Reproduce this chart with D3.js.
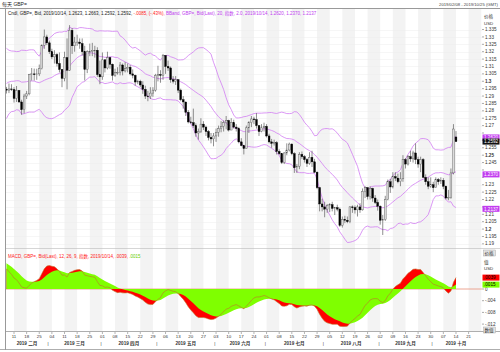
<!DOCTYPE html>
<html>
<head>
<meta charset="utf-8">
<script src="https://cdn.jsdelivr.net/npm/d3@7/dist/d3.min.js"></script>
<style>
body{margin:0;background:#fff;}
svg{display:block;font-family:"Liberation Sans","Noto Sans CJK SC",sans-serif;}
</style>
</head>
<body>
<script>
// closes before the visible window (Dec 3 2018 - Feb 5 2019), only used to warm up the indicators
var warmupClose = [1.2735,1.2725,1.2735,1.2775,1.2725, 1.2560,1.2490,1.2635,1.2640,1.2585,
    1.2630,1.2650,1.2640,1.2670,1.2640, 1.2690,1.2630,1.2655,1.2720, 1.2750,1.2610,1.2630,1.2730,
    1.2780,1.2720,1.2750,1.2760,1.2845, 1.2870,1.2870,1.2875,1.2990,1.2880, 1.2875,1.2950,1.3040,1.3060,1.3195,
    1.3170,1.3085,1.3125,1.3115,1.3075, 1.3045,1.2945];

// daily GBP= candles, Feb 6 2019 -> Oct 14 2019 (weekdays)
var dayOpen = [1.2947,1.2940,1.2948,
    1.2944,1.2884,1.2938,1.2860,1.2808, 1.2900,1.2915,1.3045,1.3050,1.3045, 1.3050,1.3085,1.3244,1.3300,1.3260,
    1.3200,1.3165,1.3180,1.3120,1.3080, 1.3020,1.3160,1.3075,1.3345,1.3240, 1.3265,1.3265,1.3255,1.3200,1.3080, 1.3200,1.3200,1.3210,1.3210,1.3045,
    1.3030,1.3145,1.3090,1.3160,1.3115, 1.3040,1.3060,1.3060,1.3110,1.3070, 1.3085,1.3095,1.3050,1.3040,1.2995, 1.3000,1.2975,1.2945,1.2900,1.2895,
    1.2920,1.2940,1.3040,1.3045,1.3040, 1.3175,1.3100,1.3090,1.3010,1.3000, 1.3010,1.2940,1.2875,1.2860,1.2790, 1.2725,1.2720,1.2700,1.2650,1.2660,
    1.2710,1.2690,1.2660,1.2620,1.2610, 1.2630,1.2655,1.2680,1.2695,1.2720, 1.2735,1.2670,1.2720,1.2690,1.2680, 1.2590,1.2565,1.2545,1.2685,1.2720,
    1.2745,1.2740,1.2700,1.2660,1.2685, 1.2695,1.2630,1.2590,1.2580,1.2585, 1.2525,1.2510,1.2450,1.2515,1.2535, 1.2575,1.2510,1.2415,1.2425,1.2505,
    1.2490,1.2470,1.2445,1.2485,1.2455, 1.2385,1.2280,1.2170,1.2150,1.2135, 1.2160,1.2165,1.2140,1.2145,1.2135, 1.2025,1.2065,1.2060,1.2050,1.2150,
    1.2145,1.2130,1.2150,1.2130,1.2255, 1.2280,1.2220,1.2275,1.2210,1.2180, 1.2155,1.2060,1.2065,1.2200,1.2320, 1.2285,1.2355,1.2345,1.2320,1.2340,
    1.2470,1.2440,1.2490,1.2475,1.2515, 1.2470,1.2440,1.2470,1.2350,1.2320, 1.2290,1.2300,1.2280,1.2335,1.2320, 1.2330,1.2290,1.2210,1.2215,1.2380,
    1.2623];
var dayHigh = [1.2962,1.2985,1.2980,
    1.2960,1.2968,1.2940,1.2875,1.2915, 1.2935,1.3050,1.3090,1.3086,1.3085, 1.3113,1.3250,1.3350,1.3315,1.3275,
    1.3220,1.3210,1.3190,1.3195,1.3080, 1.3200,1.3290,1.3380,1.3360,1.3300, 1.3315,1.3290,1.3290,1.3240,1.3210, 1.3255,1.3260,1.3240,1.3230,1.3140,
    1.3195,1.3150,1.3200,1.3165,1.3120, 1.3085,1.3095,1.3130,1.3120,1.3130, 1.3120,1.3110,1.3080,1.3045,1.3010, 1.3010,1.3000,1.2970,1.2935,1.2960,
    1.2960,1.3050,1.3105,1.3075,1.3185, 1.3175,1.3140,1.3100,1.3035,1.3035, 1.3015,1.2950,1.2900,1.2860,1.2805, 1.2760,1.2815,1.2715,1.2680,1.2750,
    1.2730,1.2700,1.2670,1.2650,1.2650, 1.2680,1.2700,1.2730,1.2735,1.2765, 1.2740,1.2750,1.2740,1.2710,1.2690, 1.2615,1.2570,1.2700,1.2730,1.2765,
    1.2760,1.2785,1.2700,1.2710,1.2720, 1.2710,1.2645,1.2610,1.2605,1.2595, 1.2540,1.2515,1.2520,1.2580,1.2585, 1.2580,1.2520,1.2440,1.2520,1.2525,
    1.2500,1.2480,1.2520,1.2530,1.2475, 1.2390,1.2285,1.2205,1.2185,1.2170, 1.2175,1.2185,1.2150,1.2165,1.2145, 1.2085,1.2090,1.2085,1.2155,1.2160,
    1.2160,1.2165,1.2175,1.2275,1.2290, 1.2285,1.2290,1.2280,1.2230,1.2200, 1.2160,1.2095,1.2225,1.2335,1.2340, 1.2385,1.2385,1.2375,1.2385,1.2500,
    1.2480,1.2500,1.2530,1.2530,1.2580, 1.2490,1.2490,1.2480,1.2370,1.2350, 1.2350,1.2320,1.2350,1.2345,1.2350, 1.2345,1.2295,1.2265,1.2410,1.2710,
    1.2663];
var dayLow = [1.2917,1.2920,1.2935,
    1.2856,1.2860,1.2855,1.2773,1.2783, 1.2880,1.2905,1.3005,1.3005,1.3010, 1.3035,1.3080,1.3220,1.3245,1.3185,
    1.3150,1.3120,1.3100,1.3060,1.2960, 1.3000,1.2945,1.3070,1.3185,1.3200, 1.3240,1.3220,1.3175,1.3005,1.3055, 1.3170,1.3170,1.3160,1.3030,1.2980,
    1.3010,1.3060,1.3080,1.3085,1.3005, 1.3030,1.3045,1.3040,1.3040,1.3060, 1.3060,1.3040,1.3020,1.2970,1.2980, 1.2960,1.2915,1.2880,1.2865,1.2880,
    1.2895,1.2930,1.3000,1.2990,1.3010, 1.3050,1.3070,1.2990,1.2985,1.2975, 1.2920,1.2865,1.2815,1.2765,1.2715, 1.2710,1.2685,1.2625,1.2605,1.2650,
    1.2670,1.2630,1.2600,1.2580,1.2560, 1.2590,1.2625,1.2655,1.2660,1.2675, 1.2660,1.2670,1.2680,1.2660,1.2580, 1.2560,1.2505,1.2545,1.2650,1.2690,
    1.2710,1.2680,1.2630,1.2655,1.2660, 1.2620,1.2580,1.2550,1.2565,1.2505, 1.2500,1.2440,1.2440,1.2500,1.2525, 1.2500,1.2380,1.2380,1.2405,1.2475,
    1.2450,1.2420,1.2435,1.2420,1.2380, 1.2270,1.2120,1.2120,1.2080,1.2110, 1.2115,1.2120,1.2095,1.2120,1.2015, 1.2010,1.2040,1.2040,1.2040,1.2110,
    1.2105,1.2085,1.2110,1.2125,1.2210, 1.2200,1.2200,1.2185,1.2170,1.2125, 1.2030,1.1960,1.2055,1.2195,1.2245, 1.2275,1.2325,1.2310,1.2290,1.2320,
    1.2410,1.2430,1.2455,1.2450,1.2440, 1.2415,1.2385,1.2345,1.2300,1.2270, 1.2280,1.2250,1.2280,1.2300,1.2305, 1.2270,1.2200,1.2195,1.2205,1.2370,
    1.2592];
var dayClose = [1.2940,1.2948,1.2944,
    1.2884,1.2938,1.2860,1.2808,1.2900, 1.2915,1.3045,1.3050,1.3045,1.3050, 1.3085,1.3244,1.3300,1.3260,1.3200,
    1.3165,1.3180,1.3120,1.3080,1.3020, 1.3160,1.3075,1.3345,1.3240,1.3265, 1.3265,1.3255,1.3200,1.3080,1.3200, 1.3200,1.3210,1.3210,1.3045,1.3030,
    1.3145,1.3090,1.3160,1.3115,1.3040, 1.3060,1.3060,1.3110,1.3070,1.3085, 1.3095,1.3050,1.3040,1.2995,1.3000, 1.2975,1.2945,1.2900,1.2895,1.2920,
    1.2940,1.3040,1.3045,1.3040,1.3175, 1.3100,1.3090,1.3010,1.3000,1.3010, 1.2940,1.2875,1.2860,1.2790,1.2725, 1.2720,1.2700,1.2650,1.2660,1.2710,
    1.2690,1.2660,1.2620,1.2610,1.2630, 1.2655,1.2680,1.2695,1.2720,1.2735, 1.2670,1.2720,1.2690,1.2680,1.2590, 1.2565,1.2545,1.2685,1.2720,1.2745,
    1.2740,1.2700,1.2660,1.2685,1.2695, 1.2630,1.2590,1.2580,1.2585,1.2525, 1.2510,1.2450,1.2515,1.2535,1.2575, 1.2510,1.2415,1.2425,1.2505,1.2490,
    1.2470,1.2445,1.2485,1.2455,1.2385, 1.2280,1.2170,1.2150,1.2135,1.2160, 1.2165,1.2140,1.2145,1.2135,1.2025, 1.2065,1.2060,1.2050,1.2150,1.2145,
    1.2130,1.2150,1.2130,1.2255,1.2280, 1.2220,1.2275,1.2210,1.2180,1.2155, 1.2060,1.2065,1.2200,1.2320,1.2285, 1.2355,1.2345,1.2320,1.2340,1.2470,
    1.2440,1.2490,1.2475,1.2515,1.2470, 1.2440,1.2470,1.2350,1.2320,1.2290, 1.2300,1.2280,1.2335,1.2320,1.2330, 1.2290,1.2210,1.2215,1.2380,1.2677,
    1.2592];

var priceTicks = [1.335,1.33,1.325,1.32,1.315,1.31,1.305,1.3,1.295,1.29,1.285,1.28,1.275,1.27,1.265,
    1.26,1.255,1.25,1.245,1.24,1.235,1.23,1.225,1.22,1.215,1.21,1.205,1.2,1.195,1.19];
var boldTicks = [1.3, 1.25, 1.2];
var macdTicks = [0, -0.004, -0.008, -0.012];
var monthNames = ["一月","二月","三月","四月","五月","六月","七月","八月","九月","十月"];

// last values shown in the tags and the titles
var bandLast = [1.2620, 1.2370, 1.2137];
var closeLast = 1.2592;
var macdLast = [0.0039, 0.0015];

var width = 500, height = 352;
var plotL = 6, plotR = 482;
var priceTop = 9, priceBottom = 248, macdTop = 248, macdBottom = 331;

var svg = d3.select("body").append("svg")
    .attr("width", width).attr("height", height);

// weekday calendar from Feb 6 to Oct 25
var days = d3.utcDay.range(new Date(Date.UTC(2019,1,6)), new Date(Date.UTC(2019,9,26)))
    .filter(function(d){ return d.getUTCDay() > 0 && d.getUTCDay() < 6; });

var x = d3.scaleLinear().domain([-0.17, 188.3]).range([plotL, plotR]);
var y = d3.scaleLinear().domain([1.1872, 1.3489]).range([priceBottom, priceTop]);
var yM = d3.scaleLinear().domain([-0.01436, 0.01402]).range([macdBottom, macdTop]);

//indicators: bollinger (20, 2.0) and macd (12, 26, 9)
var allClose = warmupClose.concat(dayClose);
var off = warmupClose.length;
var band = dayClose.map(function(c, i){
    var win = allClose.slice(off + i - 19, off + i + 1);
    var m = d3.mean(win);
    var sd = Math.sqrt(d3.mean(win, function(v){ return (v - m) * (v - m); }));
    return {i: i, mid: m, up: m + 2 * sd, lo: m - 2 * sd};
});
function ema(arr, n){
    var k = 2 / (n + 1), out = [], prev = arr[0];
    arr.forEach(function(v){ prev = v * k + prev * (1 - k); out.push(prev); });
    return out;
}
var e12 = ema(allClose, 12), e26 = ema(allClose, 26);
var macdAll = e12.map(function(v, i){ return v - e26[i]; });
var sigAll = ema(macdAll, 9);
var macd = dayClose.map(function(c, i){ return {i: i, m: macdAll[off + i], s: sigAll[off + i]}; });

// clip paths
var defs = svg.append("defs");
defs.append("clipPath").attr("id", "clipP").append("rect")
    .attr("x", plotL).attr("y", priceTop).attr("width", plotR - plotL).attr("height", priceBottom - priceTop);
defs.append("clipPath").attr("id", "clipM").append("rect")
    .attr("x", plotL).attr("y", macdTop).attr("width", plotR - plotL).attr("height", macdBottom - macdTop);

// week stripes
var mondays = [];
days.forEach(function(d, i){ if (d.getUTCDay() == 1) mondays.push(i); });
var stripes = svg.append("g");
mondays.forEach(function(i, k){
    if (k % 2 == 0){
        var x0 = x(i), x1 = Math.min(x(i + 5), plotR);
        stripes.append("rect").attr("x", x0).attr("y", priceTop)
            .attr("width", x1 - x0).attr("height", macdBottom - priceTop)
            .attr("fill", "#f3f3f3");
    }
});

// faint horizontal grid
svg.append("g").selectAll("line").data(priceTicks).enter().append("line")
    .attr("x1", plotL).attr("x2", plotR)
    .attr("y1", function(d){ return Math.round(y(d)) + 0.5; })
    .attr("y2", function(d){ return Math.round(y(d)) + 0.5; })
    .attr("stroke", "#ececec").attr("stroke-width", 0.5);

// price panel
var pg = svg.append("g").attr("clip-path", "url(#clipP)");
["up", "mid", "lo"].forEach(function(key){
    pg.append("path").datum(band)
        .attr("d", d3.line().x(function(d){ return x(d.i); }).y(function(d){ return y(d[key]); }))
        .attr("fill", "none").attr("stroke", "#d27ef3").attr("stroke-width", 0.8);
});

var candles = pg.selectAll(".cndl").data(dayClose).enter().append("g").attr("class", "cndl");
candles.append("line")
    .attr("x1", function(d, i){ return x(i); }).attr("x2", function(d, i){ return x(i); })
    .attr("y1", function(d, i){ return y(dayHigh[i]); }).attr("y2", function(d, i){ return y(dayLow[i]); })
    .attr("stroke", "#444").attr("stroke-width", 0.6);
candles.append("rect")
    .attr("x", function(d, i){ return x(i) - 0.9; })
    .attr("width", 1.8)
    .attr("y", function(d, i){ return y(Math.max(dayOpen[i], d)); })
    .attr("height", function(d, i){ return Math.max(0.6, Math.abs(y(dayOpen[i]) - y(d))); })
    .attr("fill", function(d, i){ return d >= dayOpen[i] ? "#dcdcdc" : "#000"; })
    .attr("stroke", function(d, i){ return d >= dayOpen[i] ? "#555" : "#000"; })
    .attr("stroke-width", 0.4);

// macd panel
var mg = svg.append("g").attr("clip-path", "url(#clipM)");
mg.append("line").attr("x1", plotL).attr("x2", plotR)
    .attr("y1", yM(0)).attr("y2", yM(0))
    .attr("stroke", "#e8907a").attr("stroke-width", 0.8);
mg.append("path").datum(macd)
    .attr("d", d3.area().x(function(d){ return x(d.i); }).y0(yM(0)).y1(function(d){ return yM(d.m); }))
    .attr("fill", "#ff0000");
mg.append("path").datum(macd)
    .attr("d", d3.area().x(function(d){ return x(d.i); }).y0(yM(0)).y1(function(d){ return yM(d.s); }))
    .attr("fill", "#7fff00");
mg.append("path").datum(macd)
    .attr("d", d3.line().x(function(d){ return x(d.i); }).y(function(d){ return yM(d.m); }))
    .attr("fill", "none").attr("stroke", "#c0702c").attr("stroke-width", 0.6);

// frame lines
svg.append("line").attr("x1", 0).attr("x2", width).attr("y1", 8.5).attr("y2", 8.5).attr("stroke", "#999").attr("stroke-width", 1);
svg.append("line").attr("x1", plotL - 0.5).attr("x2", plotL - 0.5).attr("y1", 9).attr("y2", 350).attr("stroke", "#999");
svg.append("line").attr("x1", plotL).attr("x2", width).attr("y1", macdTop + 0.5).attr("y2", macdTop + 0.5).attr("stroke", "#bbb").attr("stroke-width", 0.6);
svg.append("line").attr("x1", plotL).attr("x2", width).attr("y1", macdBottom + 0.5).attr("y2", macdBottom + 0.5).attr("stroke", "#999").attr("stroke-width", 0.8);
svg.append("line").attr("x1", 0).attr("x2", width).attr("y1", 349.5).attr("y2", 349.5).attr("stroke", "#999").attr("stroke-width", 0.8);

// header texts
svg.append("text").attr("x", 2).attr("y", 6).attr("font-size", 5).attr("fill", "#222").text("每天 GBP=");
svg.append("text").attr("x", 498).attr("y", 6).attr("text-anchor", "end").attr("font-size", 4.2).attr("fill", "#444")
    .text("2019/02/08 - 2019/10/25 (GMT)");

var sub = svg.append("text").attr("x", 8).attr("y", 15).attr("font-size", 4.5);
sub.append("tspan").attr("fill", "#222").text("Cndl, GBP=, Bid, 2019/10/14, 1.2623, 1.2663, 1.2592, " + closeLast.toFixed(4) + ", ");
sub.append("tspan").attr("fill", "#ff2020").text("-.0085, (-.43%), ");
sub.append("tspan").attr("fill", "#c040f0").text("BBand, GBP=, Bid(Last), 20, 指数, 2.0, 2019/10/14, "
    + bandLast.map(function(v){ return v.toFixed(4); }).join(", "));

var mt = svg.append("text").attr("x", 8).attr("y", 258).attr("font-size", 4.5);
mt.append("tspan").attr("fill", "#ff2020").text("MACD, GBP=, Bid(Last), 12, 26, 9, 指数, 2019/10/14, "
    + macdLast[0].toFixed(4).replace("0.", ".") + ", ");
mt.append("tspan").attr("fill", "#66cc00").text(macdLast[1].toFixed(4).replace("0.", "."));

// right price axis (labels under a value tag are hidden, as in the reference)
var tagYs = bandLast.concat([closeLast]).map(function(v){ return y(v); });
var ax = svg.append("g").attr("font-size", 4.6).attr("fill", "#333");
priceTicks.forEach(function(t){
    var yy = y(t);
    ax.append("line").attr("x1", plotR).attr("x2", plotR + 2).attr("y1", yy).attr("y2", yy).attr("stroke", "#555").attr("stroke-width", 0.5);
    var covered = tagYs.some(function(ty){ return Math.abs(ty - yy) < 5; });
    if (!covered){
        ax.append("text").attr("x", plotR + 3).attr("y", yy + 1.6)
            .attr("font-weight", boldTicks.indexOf(t) >= 0 ? "bold" : "normal")
            .text(String(t));
    }
});
ax.append("text").attr("x", plotR + 2).attr("y", 18).attr("font-size", 4.6).text("价格");
ax.append("text").attr("x", plotR + 2).attr("y", 24.5).attr("font-size", 4.4).text("USD");

function tag(g, v, scale, bg, fg, label){
    var yy = scale(v);
    g.append("rect").attr("x", plotR + 0.5).attr("y", yy - 3).attr("width", 17).attr("height", 6).attr("fill", bg);
    g.append("text").attr("x", plotR + 2).attr("y", yy + 1.7).attr("fill", fg).attr("font-size", 4.6).text(label);
}
bandLast.forEach(function(v){ tag(ax, v, y, "#c23cf0", "#fff", v.toFixed(4)); });
tag(ax, closeLast, y, "#111", "#fff", closeLast.toFixed(4));

// macd axis
macdTicks.forEach(function(t){
    var yy = yM(t);
    ax.append("line").attr("x1", plotR).attr("x2", plotR + 2).attr("y1", yy).attr("y2", yy).attr("stroke", "#555").attr("stroke-width", 0.5);
    ax.append("text").attr("x", plotR + 3).attr("y", yy + 1.6).text(t == 0 ? "0" : String(t).replace("0.", "."));
});
ax.append("text").attr("x", plotR + 2).attr("y", 264).attr("font-size", 4.6).text("值");
ax.append("text").attr("x", plotR + 2).attr("y", 270).attr("font-size", 4.4).text("USD");
tag(ax, macdLast[0], yM, "#ff0000", "#000", macdLast[0].toFixed(4).replace("0.", "."));
tag(ax, macdLast[1], yM, "#7fff00", "#000", macdLast[1].toFixed(4).replace("0.", "."));

// little buttons
[[250, "价格"], [327, "数值"]].forEach(function(b){
    ax.append("rect").attr("x", plotR + 1.5).attr("y", b[0]).attr("width", 12).attr("height", 6)
        .attr("fill", "#e4e4e4").attr("stroke", "#999").attr("stroke-width", 0.4);
    ax.append("text").attr("x", plotR + 2.5).attr("y", b[0] + 4.8).attr("font-size", 4.6).text(b[1]);
});

// x axis
var xa = svg.append("g").attr("font-size", 4.4).attr("fill", "#333");
var fmtDay = d3.utcFormat("%d");
mondays.forEach(function(i){
    var xx = x(i);
    xa.append("line").attr("x1", xx).attr("x2", xx).attr("y1", macdBottom + 1).attr("y2", macdBottom + 3)
        .attr("stroke", "#666").attr("stroke-width", 0.5);
    xa.append("text").attr("x", xx).attr("y", 338).attr("text-anchor", "middle").text(fmtDay(days[i]));
});
var months = d3.groups(days.map(function(d, i){ return {d: d, i: i}; }), function(o){ return o.d.getUTCMonth(); });
months.forEach(function(m, k){
    var f = m[1][0].i, l = m[1][m[1].length - 1].i;
    var x0 = Math.max(x(f - 0.5), plotL), x1 = Math.min(x(l + 0.5), plotR);
    xa.append("text").attr("x", (x0 + x1) / 2).attr("y", 345).attr("text-anchor", "middle")
        .attr("font-weight", "bold").attr("font-size", 4.6).text("2019 " + monthNames[m[0]]);
    if (k > 0){
        xa.append("text").attr("x", x(f - 0.5)).attr("y", 345).attr("text-anchor", "middle").text("|");
    }
});
</script>
</body>
</html>
